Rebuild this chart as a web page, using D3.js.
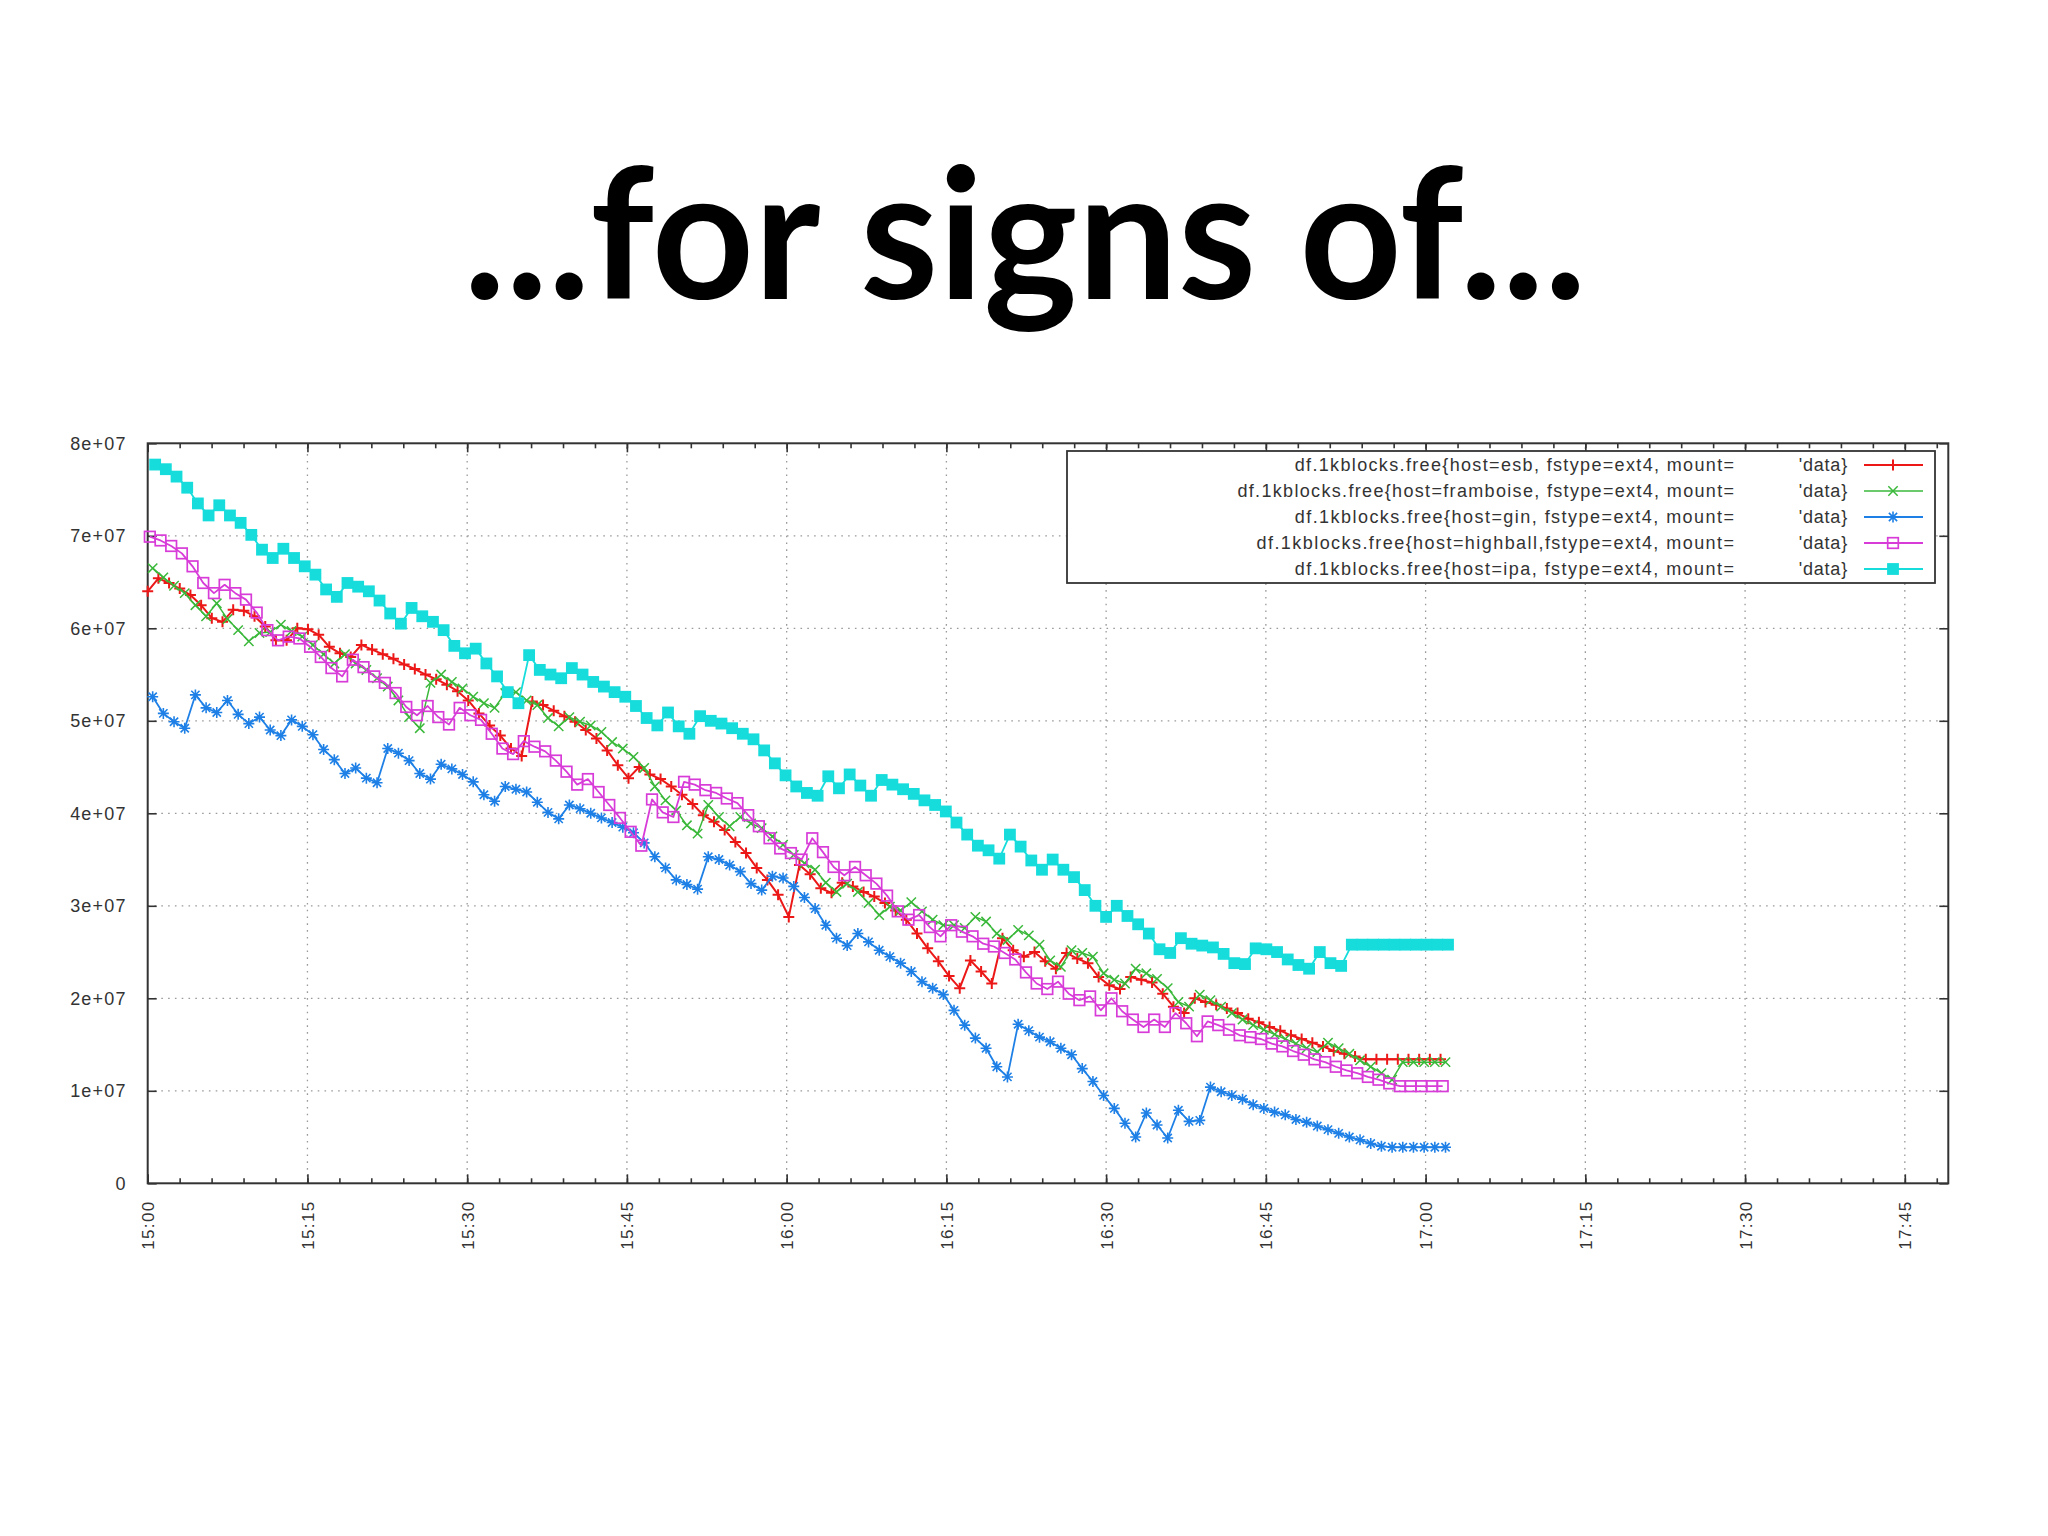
<!DOCTYPE html>
<html>
<head>
<meta charset="utf-8">
<script src="https://cdn.jsdelivr.net/npm/d3@7"></script>
<style>
  html, body { margin: 0; padding: 0; background: #ffffff; }
  svg { display: block; }
</style>
</head>
<body>
<svg id="chart" width="2048" height="1536"></svg>
<script>
// ---------------- DATA ----------------
const slideTitle = "...for signs of...";

const seriesKeys = ["esb", "framboise", "gin", "highball", "ipa"];
const legendLabels = [
  "df.1kblocks.free{host=esb, fstype=ext4, mount=",
  "df.1kblocks.free{host=framboise, fstype=ext4, mount=",
  "df.1kblocks.free{host=gin, fstype=ext4, mount=",
  "df.1kblocks.free{host=highball,fstype=ext4, mount=",
  "df.1kblocks.free{host=ipa, fstype=ext4, mount="
];
const legendSuffix = "'data}";

const xTickLabels = ["15:00","15:15","15:30","15:45","16:00","16:15","16:30","16:45","17:00","17:15","17:30","17:45"];
const yTickValues = [0, 1e7, 2e7, 3e7, 4e7, 5e7, 6e7, 7e7, 8e7];
const yTickLabels = ["0","1e+07","2e+07","3e+07","4e+07","5e+07","6e+07","7e+07","8e+07"];

// sample timing (seconds after 15:00:00 of the first sample, and sampling interval)
const sampleStartSec = [0, 28, 28, 12, 42];
const sampleStepSec = 60.2;

// free 1k-blocks, in millions
const esb = [
  64.0,65.4,64.9,64.3,63.6,62.5,61.1,60.7,62.0,61.9,
  61.3,60.2,58.7,58.7,60.0,59.9,59.3,58.0,57.3,56.9,
  58.2,57.7,57.2,56.7,56.1,55.6,55.0,54.5,53.9,53.2,
  52.2,50.8,49.5,48.4,47.0,46.2,52.1,51.7,51.1,50.5,
  49.9,49.0,48.1,46.8,45.2,43.8,45.0,44.2,43.7,42.9,
  42.0,41.0,39.8,39.1,38.2,36.9,35.7,34.1,32.8,31.2,
  28.8,34.4,33.4,31.9,31.4,32.5,32.1,31.5,31.0,30.3,
  29.5,28.5,27.0,25.4,24.0,22.4,21.1,24.1,22.9,21.6,
  26.5,25.2,24.5,25.0,24.0,23.2,24.9,24.3,23.8,22.3,
  21.4,21.0,22.3,22.0,21.7,20.5,19.1,18.4,20.0,19.6,
  19.3,18.9,18.4,17.8,17.4,16.9,16.5,16.0,15.6,15.2,
  14.8,14.3,14.0,13.7,13.4,13.4,13.4,13.4,13.4,13.4,
  13.4,13.4
];
const framboise = [
  66.5,65.5,64.6,63.8,62.5,61.3,62.7,61.0,59.8,58.6,
  59.5,59.6,60.4,59.7,59.1,58.2,57.2,56.2,57.2,56.2,
  55.5,54.6,53.7,52.2,50.4,49.2,54.1,55.0,54.2,53.5,
  52.6,51.9,51.4,53.0,53.1,52.2,51.7,50.3,49.4,50.4,
  49.9,49.5,48.8,47.7,47.0,46.1,44.9,42.9,41.4,40.3,
  38.7,37.8,40.9,39.6,38.6,39.6,38.9,38.4,37.5,36.6,
  35.5,34.6,33.9,32.5,31.5,32.4,31.5,30.3,29.0,29.9,
  29.5,30.4,29.4,28.5,27.9,27.9,27.6,28.8,28.3,27.0,
  26.3,27.4,26.8,25.8,24.1,23.4,25.2,24.9,24.5,22.7,
  22.0,21.6,23.2,22.7,22.1,21.1,19.6,19.1,20.4,19.8,
  19.1,18.4,17.7,17.1,16.6,16.1,15.6,15.1,14.6,14.2,
  15.2,14.6,14.0,13.3,12.6,11.9,11.2,13.1,13.1,13.1,
  13.1,13.1
];
const gin = [
  52.6,50.8,49.9,49.2,52.8,51.4,50.9,52.2,50.7,49.7,
  50.4,49.0,48.4,50.1,49.4,48.5,46.9,45.8,44.3,44.9,
  43.8,43.3,47.0,46.5,45.7,44.3,43.7,45.3,44.8,44.2,
  43.4,42.0,41.3,42.9,42.6,42.3,41.2,40.1,39.4,40.9,
  40.5,40.0,39.5,39.0,38.5,37.9,36.8,35.3,34.1,32.8,
  32.3,31.8,35.3,35.0,34.4,33.7,32.4,31.7,33.2,33.0,
  32.1,30.9,29.7,27.9,26.5,25.7,27.0,26.1,25.2,24.5,
  23.8,22.9,21.8,21.1,20.4,18.7,17.1,15.7,14.6,12.6,
  11.5,17.2,16.5,15.8,15.3,14.6,13.9,12.4,11.0,9.5,
  8.1,6.5,5.0,7.6,6.3,4.9,7.9,6.7,6.8,10.4,
  9.9,9.5,9.1,8.5,8.1,7.7,7.4,6.9,6.6,6.2,
  5.8,5.4,5.0,4.7,4.3,4.0,3.9,3.9,3.9,3.9,
  3.9,3.9
];
const highball = [
  69.9,69.5,68.9,68.1,66.7,64.9,63.8,64.7,63.8,63.1,
  61.7,59.8,58.7,59.1,58.9,58.0,56.9,55.7,54.8,56.6,
  55.8,54.8,54.1,53.0,51.5,50.6,51.6,50.4,49.6,51.4,
  50.6,50.1,48.6,47.0,46.4,47.8,47.2,46.7,45.7,44.5,
  43.1,43.7,42.3,40.9,39.5,38.0,36.5,41.5,40.1,39.6,
  43.4,43.1,42.5,42.2,41.6,41.1,39.8,38.6,37.3,36.2,
  35.7,35.0,37.3,35.8,34.2,33.3,34.2,33.3,32.4,31.1,
  29.4,28.5,29.0,27.7,26.7,27.9,27.2,26.7,25.9,25.6,
  24.9,24.2,22.8,21.6,21.0,21.8,20.5,19.8,20.2,18.7,
  20.0,18.6,17.7,16.9,17.7,16.9,18.4,17.3,15.9,17.5,
  17.1,16.6,16.0,15.8,15.6,15.1,14.8,14.3,13.9,13.4,
  13.1,12.6,12.2,11.9,11.5,11.2,10.8,10.5,10.5,10.5,
  10.5,10.5
];
const ipa = [
  77.7,77.2,76.4,75.2,73.5,72.2,73.3,72.2,71.4,70.1,
  68.5,67.6,68.6,67.6,66.7,65.8,64.2,63.4,64.9,64.5,
  64.0,63.0,61.6,60.5,62.2,61.3,60.7,59.8,58.1,57.3,
  57.8,56.2,54.8,53.1,51.9,57.1,55.5,55.0,54.6,55.7,
  55.0,54.2,53.7,53.1,52.6,51.6,50.3,49.5,50.9,49.4,
  48.6,50.5,50.0,49.7,49.2,48.6,48.0,46.8,45.4,44.1,
  42.9,42.2,41.9,44.0,42.7,44.2,43.0,41.9,43.6,43.1,
  42.6,42.1,41.4,40.9,40.2,39.0,37.7,36.5,36.0,35.1,
  37.7,36.4,34.9,33.9,35.0,33.9,33.1,31.7,30.0,28.8,
  30.0,28.9,28.0,27.0,25.3,24.9,26.5,25.9,25.7,25.5,
  24.8,23.8,23.7,25.4,25.3,25.0,24.2,23.6,23.2,25.0,
  23.8,23.5,25.8,25.8,25.8,25.8,25.8,25.8,25.8,25.8,
  25.8,25.8
];
const seriesValues = [esb, framboise, gin, highball, ipa];

// ---------------- STYLE ----------------
const colors = ["#ec1818", "#3ab83a", "#1e80e6", "#d83cd8", "#16dcdc"];
const markerTypes = ["plus", "cross", "star", "square", "filledSquare"];

const W = 2048, H = 1536;
const plot = { left: 147.7, right: 1948.3, top: 443.3, bottom: 1183.3 };

const base = new Date(2000, 0, 1, 15, 0, 0);
const atSec = s => new Date(base.getTime() + s * 1000);
const xDomainEnd = new Date(2000, 0, 1, 17, 49, 5);

const x = d3.scaleTime().domain([base, xDomainEnd]).range([plot.left, plot.right]);
const y = d3.scaleLinear().domain([0, 8e7]).range([plot.bottom, plot.top]);

const svg = d3.select("#chart");
svg.append("rect").attr("width", W).attr("height", H).attr("fill", "#ffffff");

// Title
svg.append("text")
  .attr("x", 1025).attr("y", 299)
  .attr("text-anchor", "middle")
  .attr("font-family", "Lato, 'Noto Sans', sans-serif")
  .attr("font-weight", 700)
  .attr("font-size", 182)
  .attr("textLength", 1123)
  .attr("lengthAdjust", "spacingAndGlyphs")
  .attr("fill", "#000")
  .text(slideTitle);

// tick values
const xMajor = d3.timeMinute.every(15).range(base, new Date(xDomainEnd.getTime() + 1));
const xMinor = d3.timeMinute.every(3).range(base, new Date(xDomainEnd.getTime() + 1));

// Grid (dotted)
const grid = svg.append("g").attr("stroke", "#9a9a9a").attr("stroke-width", 1.3)
  .attr("stroke-dasharray", "1.6,5.2").attr("fill", "none");
grid.selectAll("line.gx").data(xMajor.filter(d => x(d) > plot.left + 1))
  .join("line").attr("class", "gx")
  .attr("x1", d => x(d)).attr("x2", d => x(d))
  .attr("y1", plot.bottom).attr("y2", plot.top);
grid.selectAll("line.gy").data(yTickValues.filter(v => v > 0 && v < 8e7))
  .join("line").attr("class", "gy")
  .attr("x1", plot.left).attr("x2", plot.right)
  .attr("y1", d => y(d)).attr("y2", d => y(d));

// Axes
const axisColor = "#333";
const styleAxis = g => {
  g.select(".domain").remove();
  g.selectAll(".tick line").attr("stroke", axisColor).attr("stroke-width", 1.6);
};

const gBottom = svg.append("g").attr("transform", `translate(0,${plot.bottom})`)
  .call(d3.axisBottom(x).tickValues(xMajor).tickSizeInner(-9).tickSizeOuter(0)
        .tickPadding(17).tickFormat((d, i) => xTickLabels[i]))
  .call(styleAxis);
gBottom.selectAll(".tick text")
  .attr("transform", "rotate(-90)")
  .attr("x", -17).attr("y", 0).attr("dy", "0.35em")
  .attr("text-anchor", "end")
  .attr("font-family", "'Liberation Sans', Arial, sans-serif")
  .attr("font-size", 17).attr("letter-spacing", 1.4)
  .attr("fill", "#333");
svg.append("g").attr("transform", `translate(0,${plot.bottom})`)
  .call(d3.axisBottom(x).tickValues(xMinor).tickSizeInner(-5).tickSizeOuter(0).tickFormat(""))
  .call(styleAxis);
svg.append("g").attr("transform", `translate(0,${plot.top})`)
  .call(d3.axisTop(x).tickValues(xMajor).tickSizeInner(-9).tickSizeOuter(0).tickFormat(""))
  .call(styleAxis);
svg.append("g").attr("transform", `translate(0,${plot.top})`)
  .call(d3.axisTop(x).tickValues(xMinor).tickSizeInner(-5).tickSizeOuter(0).tickFormat(""))
  .call(styleAxis);
const gLeft = svg.append("g").attr("transform", `translate(${plot.left},0)`)
  .call(d3.axisLeft(y).tickValues(yTickValues).tickSizeInner(-9).tickSizeOuter(0)
        .tickPadding(21).tickFormat((d, i) => yTickLabels[i]))
  .call(styleAxis);
gLeft.selectAll(".tick text")
  .attr("font-family", "'Liberation Sans', Arial, sans-serif")
  .attr("font-size", 18).attr("letter-spacing", 1.2)
  .attr("fill", "#333");
svg.append("g").attr("transform", `translate(${plot.right},0)`)
  .call(d3.axisRight(y).tickValues(yTickValues).tickSizeInner(-9).tickSizeOuter(0).tickFormat(""))
  .call(styleAxis);

svg.append("rect")
  .attr("x", plot.left).attr("y", plot.top)
  .attr("width", plot.right - plot.left).attr("height", plot.bottom - plot.top)
  .attr("fill", "none").attr("stroke", axisColor).attr("stroke-width", 2);

function drawMarker(g, type, color, cx, cy) {
  const s = 5.5;
  if (type === "plus") {
    g.append("path").attr("d", `M${cx - s},${cy}H${cx + s}M${cx},${cy - s}V${cy + s}`)
      .attr("stroke", color).attr("stroke-width", 2).attr("fill", "none");
  } else if (type === "cross") {
    const t = s * 0.85;
    g.append("path").attr("d", `M${cx - t},${cy - t}L${cx + t},${cy + t}M${cx - t},${cy + t}L${cx + t},${cy - t}`)
      .attr("stroke", color).attr("stroke-width", 1.5).attr("fill", "none");
  } else if (type === "star") {
    const t = s * 0.75;
    g.append("path").attr("d",
      `M${cx - s},${cy}H${cx + s}M${cx},${cy - s}V${cy + s}M${cx - t},${cy - t}L${cx + t},${cy + t}M${cx - t},${cy + t}L${cx + t},${cy - t}`)
      .attr("stroke", color).attr("stroke-width", 1.6).attr("fill", "none");
  } else if (type === "square") {
    g.append("rect").attr("x", cx - 5.3).attr("y", cy - 5.3).attr("width", 10.6).attr("height", 10.6)
      .attr("stroke", color).attr("stroke-width", 1.7).attr("fill", "none");
  } else if (type === "filledSquare") {
    g.append("rect").attr("x", cx - 5.9).attr("y", cy - 5.9).attr("width", 11.8).attr("height", 11.8)
      .attr("fill", color).attr("stroke", "none");
  }
}

const lineWidths = [2, 1.5, 1.8, 1.8, 1.8];
const line = d3.line().x(d => x(d.t)).y(d => y(d.v));

seriesValues.forEach((vals, si) => {
  const pts = vals.map((v, i) => ({ t: atSec(sampleStartSec[si] + i * sampleStepSec), v: v * 1e6 }));
  const g = svg.append("g").attr("class", "series-" + seriesKeys[si]);
  g.append("path").datum(pts).attr("d", line)
    .attr("fill", "none").attr("stroke", colors[si]).attr("stroke-width", lineWidths[si])
    .attr("stroke-linejoin", "round");
  pts.forEach(p => drawMarker(g, markerTypes[si], colors[si], x(p.t), y(p.v)));
});

const legend = svg.append("g");
legend.append("rect")
  .attr("x", 1067).attr("y", 451).attr("width", 868).attr("height", 132)
  .attr("fill", "#ffffff").attr("stroke", axisColor).attr("stroke-width", 1.8);
legendLabels.forEach((lab, i) => {
  const ry = 465 + i * 26;
  legend.append("text")
    .attr("x", 1734).attr("y", ry).attr("dy", "0.35em")
    .attr("text-anchor", "end")
    .attr("font-family", "'Liberation Sans', Arial, sans-serif")
    .attr("font-size", 18)
    .attr("textLength", lab.length * 9.55).attr("lengthAdjust", "spacing")
    .attr("fill", "#333")
    .text(lab);
  legend.append("text")
    .attr("x", 1848).attr("y", ry).attr("dy", "0.35em")
    .attr("text-anchor", "end")
    .attr("font-family", "'Liberation Sans', Arial, sans-serif")
    .attr("font-size", 18).attr("letter-spacing", 0.8)
    .attr("fill", "#333")
    .text(legendSuffix);
  legend.append("line")
    .attr("x1", 1864).attr("x2", 1923).attr("y1", ry).attr("y2", ry)
    .attr("stroke", colors[i]).attr("stroke-width", lineWidths[i]);
  drawMarker(legend, markerTypes[i], colors[i], 1893, ry);
});
</script>
</body>
</html>
